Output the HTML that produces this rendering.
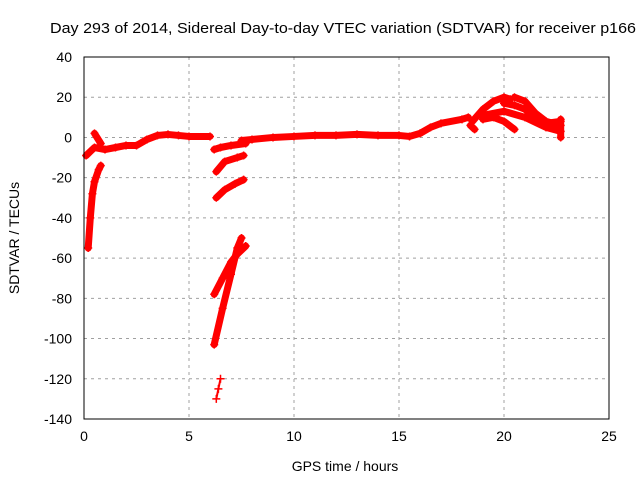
<!DOCTYPE html>
<html><head><meta charset="utf-8"><style>
body{margin:0;background:#fff}
svg{display:block;font-family:"Liberation Sans",sans-serif}
</style></head><body>
<svg id="c" width="640" height="480">
<text x="50" y="33" font-size="15" textLength="586" lengthAdjust="spacingAndGlyphs">Day 293 of 2014, Sidereal Day-to-day VTEC variation (SDTVAR) for receiver p166</text>
<text x="345" y="471" font-size="14" text-anchor="middle">GPS time / hours</text>
<text transform="translate(19,238) rotate(-90)" font-size="14" text-anchor="middle">SDTVAR / TECUs</text>
<g id="grid"></g><g id="ticks"></g><g id="marks"></g>
<rect x="84" y="57" width="525" height="362" fill="none" stroke="#000"/>
</svg>
<script>
const xTicks=[0,5,10,15,20,25];
const yTicks=[40,20,0,-20,-40,-60,-80,-100,-120,-140];
const segMain=[[0.1,-9],[0.3,-7],[0.5,-5],[1,-6],[1.5,-5],[2,-4],[2.5,-4],[3,-1],[3.5,1],[4,1.5],[4.5,1],[5,0.5],[6,0.5]];
const segEarly=[[0.2,-55],[0.3,-40],[0.4,-28],[0.5,-22],[0.7,-16],[0.8,-14]];
const segSpike=[[0.5,2],[0.8,-3]];
const segA=[[6.2,-6],[6.5,-5],[7,-4],[7.7,-3]];
const segLong=[[7.5,-1.5],[8,-1],[9,0],[10,0.5],[11,1],[12,1],[13,1.5],[14,1],[15,1],[15.5,0.5],[16,2],[16.5,5],[17,7],[18,9],[18.3,10]];
const segB=[[6.3,-17],[6.7,-12],[7.3,-10],[7.6,-9]];
const segC=[[6.3,-30],[6.7,-26],[7.2,-23],[7.6,-21]];
const segD=[[6.2,-103],[6.6,-85],[7,-68],[7.3,-55],[7.5,-50]];
const segE=[[6.2,-78],[6.6,-70],[7,-62],[7.3,-58],[7.7,-54]];
const segF=[[6.3,-130],[6.4,-125],[6.5,-120]];
const arc1=[[18.5,8],[19,14],[19.5,18],[20,20],[20.3,19]];
const arc2=[[19,11],[20,13],[21,10],[22,5],[22.7,3]];
const arc3=[[20.5,20],[21,18],[21.5,12],[22,8],[22.7,6]];
const arc4=[[19,9],[19.5,10],[20,8],[20.5,4]];
const arc5=[[18.4,6],[18.6,4]];
const arc6=[[20,17],[20.5,16],[21,14],[21.5,10],[22,7],[22.7,8]];
const arc7=[[22.7,0],[22.7,9]];
const segs=[segMain,segEarly,segSpike,segA,segLong,segB,segC,segD,segE,segF,arc1,arc2,arc3,arc4,arc5,arc6,arc7];
const NS='http://www.w3.org/2000/svg';
const X=h=>84+h*21, Y=v=>57+(40-v)*362/180;
const g=document.getElementById('grid'),t=document.getElementById('ticks'),m=document.getElementById('marks');
function mk(tag,a,p){const e=document.createElementNS(NS,tag);for(const k in a)e.setAttribute(k,a[k]);p.appendChild(e);return e;}
xTicks.forEach(v=>{
 if(v>0&&v<25){const l=mk('line',{x1:X(v),x2:X(v),y1:57,y2:419,stroke:'#a0a0a0','stroke-dasharray':'3,4'},g);
 
 }
 const s=mk('text',{x:X(v),y:441,'font-size':14,'text-anchor':'middle'},t);s.textContent=v;
 
 
});
yTicks.forEach(v=>{
 if(v<40&&v>-140){const l=mk('line',{x1:84,x2:609,y1:Y(v),y2:Y(v),stroke:'#a0a0a0','stroke-dasharray':'3,4'},g);
 
 }
 const s=mk('text',{x:72,y:Y(v)+5,'font-size':14,'text-anchor':'end'},t);s.textContent=v;
 
 
});
segs.forEach(s=>{
 const p=mk('polyline',{points:s.map(d=>X(d[0])+','+Y(d[1])).join(' '),fill:'none',stroke:'#ff0000','stroke-width':s===segF?2:7,'stroke-linejoin':'round','stroke-linecap':'round'},m);
 
 
 s.forEach(d=>{
  const q=mk('path',{d:`M${X(d[0])-4},${Y(d[1])}h8M${X(d[0])},${Y(d[1])-4}v8`,stroke:'#ff0000','stroke-width':1.5},m);
  
  
 });
});
</script>
</body></html>
